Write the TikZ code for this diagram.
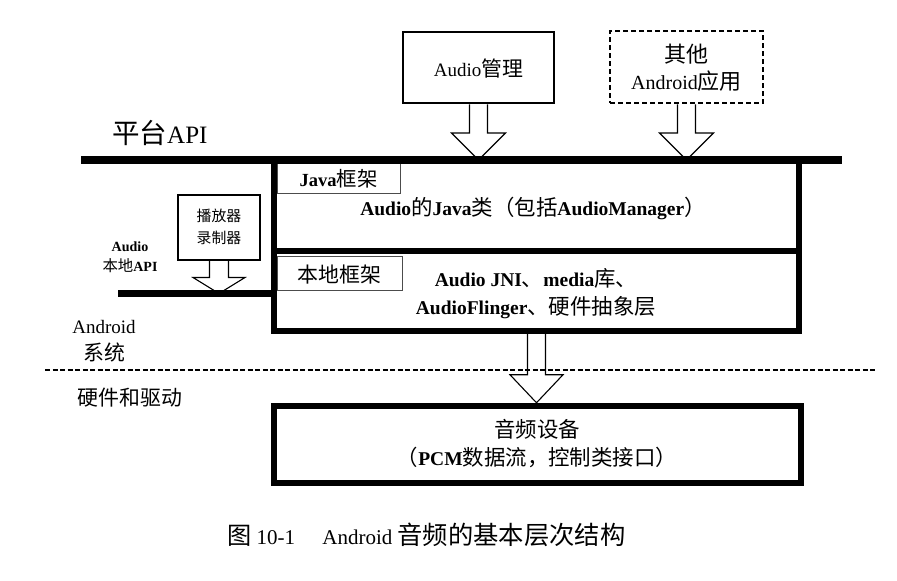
\documentclass[tikz,border=0pt]{standalone}
\usepackage{fontspec}
\setmainfont{Liberation Serif}
\newfontfamily\cjk[Scale=1.1]{Noto Sans CJK SC}
\newcommand\zh[1]{{\cjk\mdseries #1}}
\usetikzlibrary{calc,backgrounds}
\newcommand\hollowarrow[5]{%
  \draw[harrow] let \p1=(#1), \p2=(#2) in
    (\x1-#3pt,\y1) -- (\x1-#3pt,\y2+#5pt) -- (\x1-#4pt,\y2+#5pt) -- (\x1,\y2)
    -- (\x1+#4pt,\y2+#5pt) -- (\x1+#3pt,\y2+#5pt) -- (\x1+#3pt,\y1);}
\begin{document}
\begin{tikzpicture}[x=1pt,y=-1pt,
  bigbox/.style={draw, line width=6pt, inner sep=0pt},
  appbox/.style={draw, line width=2.5pt, inner sep=0pt},
  tagbox/.style={draw, line width=0.7pt, draw=black!70, inner sep=0pt},
  harrow/.style={draw, fill=white, line width=1.1pt, line join=miter},
  maintext/.style={font=\fontsize{19.5}{28}\selectfont\bfseries, align=center, inner sep=0pt},
  boxtext/.style={font=\fontsize{19}{27}\selectfont, align=center, inner sep=0pt},
  smalltext/.style={font=\fontsize{14}{20}\selectfont\bfseries, align=center, inner sep=0pt},
  sidetext/.style={font=\fontsize{19}{27}\selectfont, align=center, inner sep=0pt}]
\useasboundingbox (0,0) rectangle (897,581);

% boxes
\node[appbox, minimum width=151pt, minimum height=71pt] (mgr) at (478.5,67.5) {};
\node[appbox, dash pattern=on 5pt off 3pt, line width=2.8pt, minimum width=153pt, minimum height=72pt] (other) at (686.5,67) {};
\node[bigbox, minimum width=525pt, minimum height=91pt] (java) at (536.5,205.5) {};
\node[bigbox, minimum width=525pt, minimum height=80pt] (native) at (536.5,291) {};
\node[bigbox, line width=6.5pt, minimum width=527pt, minimum height=77pt] (device) at (537.5,444.5) {};
\node[tagbox, minimum width=123pt, minimum height=30pt] (javatag) at (338.5,178) {};
\node[tagbox, minimum width=125pt, minimum height=34pt] (nativetag) at (339.5,273) {};
\node[appbox, line width=2pt, minimum width=82pt, minimum height=65pt] (player) at (219,227.5) {};

% lines
\coordinate (pl) at (81,160);
\coordinate (pr) at (842,160);
\coordinate (apil) at (118,293.5);
\coordinate (sepl) at (45,370);
\coordinate (sepr) at (876,370);
\draw[line width=8pt] (pl) -- (pr);
\draw[line width=7pt] (apil) -- (apil -| native.west);
\draw[line width=2.5pt, dash pattern=on 5pt off 2.5pt] (sepl) -- (sepr);

% hollow arrows
\begin{pgfonlayer}{background}
\hollowarrow{mgr.south}{mgr.south |- pl}{9}{27}{27}
\hollowarrow{other.south}{other.south |- pl}{9}{27}{27}
\hollowarrow{player.south}{player.south |- apil}{9.5}{26}{16}
\hollowarrow{native.south}{native.south |- device.north}{9}{26.5}{28}
\end{pgfonlayer}

% texts
\node[boxtext] (mgrt) at (478.5,69) {Audio\zh{管理}};
\node[boxtext, font=\fontsize{20}{27}\selectfont] (othert) at (686.5,68) {\zh{其他}\\Android\zh{应用}};
\node[boxtext, font=\fontsize{18.5}{27}\selectfont\bfseries] (javatagt) at (338.5,179) {Java\zh{框架}};
\node[boxtext] (nativetagt) at (339.5,275) {\zh{本地框架}};
\node[maintext] (javat) at (533,208) {Audio\zh{的}Java\zh{类（包括}AudioManager\zh{）}};
\node[maintext] (nativet) at (536,294) {Audio JNI\zh{、}media\zh{库、}\\AudioFlinger\zh{、硬件抽象层}};
\node[maintext] (devicet) at (537,444) {\zh{音频设备}\\\zh{（}PCM\zh{数据流，控制类接口）}};
\node[smalltext, font=\fontsize{13.5}{22}\selectfont] (playert) at (219,227) {\zh{播放器}\\\zh{录制器}};
\node[smalltext] (apit) at (130,257) {Audio\\\zh{本地}API};
\node[inner sep=0pt, anchor=west, font=\fontsize{25}{27}\selectfont] (platt) at (112,133) {\zh{平台}API};
\node[sidetext] (andt) at (104,341) {Android\\\zh{系统}};
\node[sidetext] (hwt) at (130,398) {\zh{硬件和驱动}};
\node[inner sep=0pt, anchor=west, font=\fontsize{21}{27}\selectfont] (cap) at (227,535)
  {{\fontsize{22}{27}\selectfont\zh{图}} 10-1\hspace{1.3em}Android {\fontsize{23}{27}\selectfont\zh{音频的基本层次结构}}};
\end{tikzpicture}
\end{document}
